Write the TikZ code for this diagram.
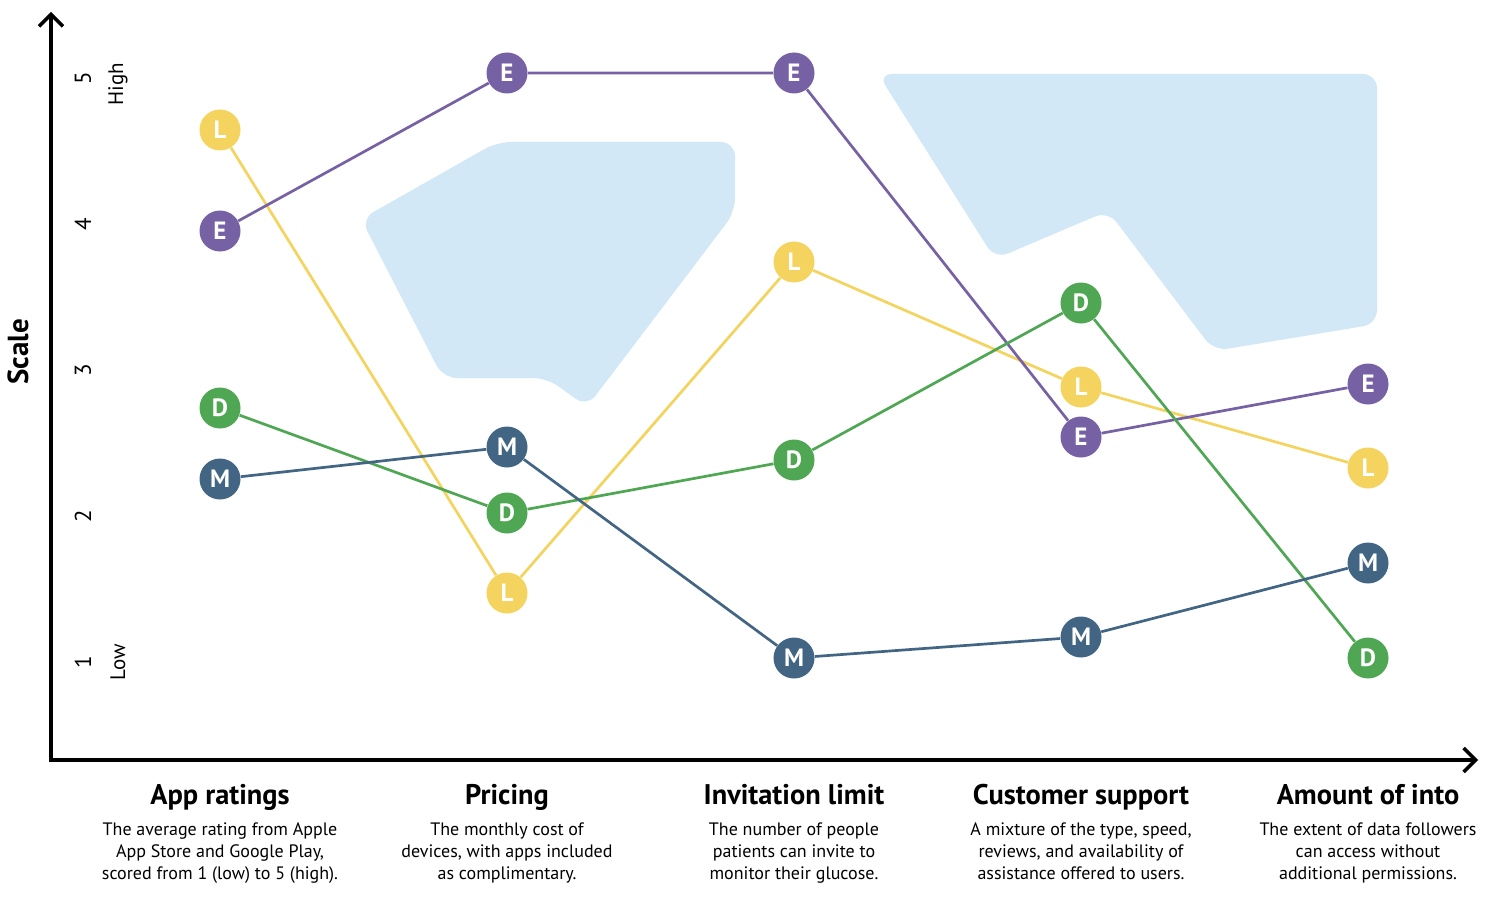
\documentclass[tikz,border=0pt]{standalone}
\usepackage{fontspec}
\setmainfont{PT Sans}
\usepackage{tikz}
\usetikzlibrary{positioning, calc, arrows.meta}
\definecolor{lemon}{HTML}{F4D35E}
\definecolor{plum}{HTML}{7661A5}
\definecolor{leaf}{HTML}{4FA653}
\definecolor{slate}{HTML}{436584}
\definecolor{sky}{HTML}{D2E8F7}

\begin{document}
\begin{tikzpicture}[x=0.5pt,y=-0.5pt,
	dot/.style={circle,minimum size=20.5pt,inner sep=0pt,text=white,font=\fontsize{12.5}{12}\selectfont\bfseries},
	trend/.style={line width=1.35pt},
	crit/.style={inner sep=0pt,text height=10pt,text depth=3pt,font=\fontsize{14.2}{16}\selectfont\bfseries},
	desc/.style={inner sep=0pt,align=center,font=\fontsize{9}{11}\selectfont},
	tick/.style={rotate=90,font=\fontsize{11.5}{12}\selectfont},
	level/.style={rotate=90,font=\fontsize{10.5}{11}\selectfont}]

\useasboundingbox (0,0) rectangle (1491,909);

% set column positions
\pgfmathsetmacro{\colA}{220}
\pgfmathsetmacro{\colB}{507}
\pgfmathsetmacro{\colC}{794}
\pgfmathsetmacro{\colD}{1081}
\pgfmathsetmacro{\colE}{1368}

% shaded regions
\fill[sky,rounded corners=7pt] (497,142) -- (735,142) -- (735,212) -- (587,407) -- (547,378) -- (443,378) -- (361,219) -- cycle;
\fill[sky,rounded corners=7pt] (878,74) -- (1377,74) -- (1377,324) -- (1214,351) -- (1108,211) -- (995,259) -- cycle;

% axes
\coordinate (ytop) at (51,12);
\coordinate (origin) at (51,760);
\coordinate (xend) at (1478,760);
\draw[line width=1.7pt,{Straight Barb[length=6pt,width=12pt]}-{Straight Barb[length=6pt,width=12pt]}] (ytop) -- (origin) -- (xend);

\node[rotate=90,font=\fontsize{14.5}{15}\selectfont\bfseries] (scale) at (18,352) {Scale};
\node[tick] (t5) at (83,78) {5};
\node[tick] (t4) at (83,224) {4};
\node[tick] (t3) at (83,370) {3};
\node[tick] (t2) at (83,516) {2};
\node[tick] (t1) at (83,662) {1};
\node[level] (high) at (118,84) {High};
\node[level] (low) at (118,662) {Low};

% L points
\node[dot,fill=lemon] (L1) at (\colA,130) {L};
\node[dot,fill=lemon] (L2) at (\colB,593) {L};
\node[dot,fill=lemon] (L3) at (\colC,262) {L};
\node[dot,fill=lemon] (L4) at (\colD,387) {L};
\node[dot,fill=lemon] (L5) at (\colE,468) {L};
% E points
\node[dot,fill=plum] (E1) at (\colA,231) {E};
\node[dot,fill=plum] (E2) at (\colB,73) {E};
\node[dot,fill=plum] (E3) at (\colC,73) {E};
\node[dot,fill=plum] (E4) at (\colD,437) {E};
\node[dot,fill=plum] (E5) at (\colE,384) {E};
% D points
\node[dot,fill=leaf] (D1) at (\colA,408) {D};
\node[dot,fill=leaf] (D2) at (\colB,513) {D};
\node[dot,fill=leaf] (D3) at (\colC,460) {D};
\node[dot,fill=leaf] (D4) at (\colD,303) {D};
\node[dot,fill=leaf] (D5) at (\colE,658) {D};
% M points
\node[dot,fill=slate] (M1) at (\colA,479) {M};
\node[dot,fill=slate] (M2) at (\colB,447) {M};
\node[dot,fill=slate] (M3) at (\colC,658) {M};
\node[dot,fill=slate] (M4) at (\colD,637) {M};
\node[dot,fill=slate] (M5) at (\colE,563) {M};

% connect the points of each series
\draw[trend,lemon] (L1) -- (L2) (L2) -- (L3) (L3) -- (L4) (L4) -- (L5);
\draw[trend,plum] (E1) -- (E2) (E2) -- (E3) (E3) -- (E4) (E4) -- (E5);
\draw[trend,leaf] (D1) -- (D2) (D2) -- (D3) (D3) -- (D4) (D4) -- (D5);
\draw[trend,slate] (M1) -- (M2) (M2) -- (M3) (M3) -- (M4) (M4) -- (M5);

% criteria below the axis
\node[crit] (cA) at (\colA,797) {App ratings};
\node[desc,below=6pt of cA] (dA) {The average rating from Apple\\App Store and Google Play,\\scored from 1 (low) to 5 (high).};
\node[crit] (cB) at (\colB,797) {Pricing};
\node[desc,below=6pt of cB] (dB) {The monthly cost of\\devices, with apps included\\as complimentary.};
\node[crit] (cC) at (\colC,797) {Invitation limit};
\node[desc,below=6pt of cC] (dC) {The number of people\\patients can invite to\\monitor their glucose.};
\node[crit] (cD) at (\colD,797) {Customer support};
\node[desc,below=6pt of cD] (dD) {A mixture of the type, speed,\\reviews, and availability of\\assistance offered to users.};
\node[crit] (cE) at (\colE,797) {Amount of into};
\node[desc,below=6pt of cE] (dE) {The extent of data followers\\can access without\\additional permissions.};

\end{tikzpicture}
\end{document}
